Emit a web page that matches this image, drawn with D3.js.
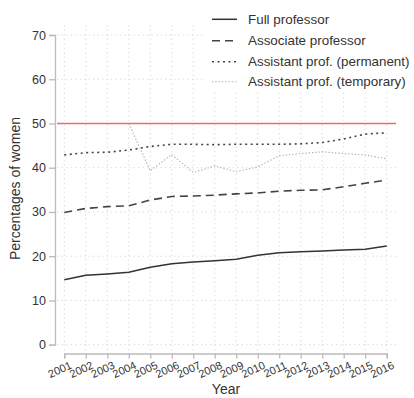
<!DOCTYPE html>
<html><head><meta charset="utf-8">
<script src="https://cdn.jsdelivr.net/npm/d3@7"></script>
<style>body{margin:0;background:#fff}svg{display:block;font-family:"Liberation Sans",Arial,sans-serif}</style>
</head><body><svg id="c" width="414" height="398"></svg>
<script>
const years = [2001,2002,2003,2004,2005,2006,2007,2008,2009,2010,2011,2012,2013,2014,2015,2016];
const fullProf = [14.7,15.7,16.0,16.4,17.5,18.3,18.7,19.0,19.3,20.2,20.8,21.0,21.2,21.4,21.6,22.3];
const assocProf = [29.9,30.8,31.2,31.4,32.7,33.5,33.6,33.8,34.1,34.3,34.7,34.9,35.0,35.7,36.5,37.2];
const asstPerm = [42.9,43.4,43.5,44.0,44.8,45.3,45.3,45.2,45.3,45.3,45.3,45.4,45.7,46.5,47.6,47.9];
const asstTemp = [null,null,null,50.0,39.3,43.0,38.9,40.4,39.1,40.2,42.7,43.2,43.6,43.2,42.9,42.0];
const yTicks = [0,10,20,30,40,50,60,70];
const seriesNames = ["Full professor","Associate professor","Assistant prof. (permanent)","Assistant prof. (temporary)"];
const refLine = 50;

const svg = d3.select("#c");
const x = d3.scaleLinear().domain([2001,2016]).range([64.3,386.7]);
const y = d3.scaleLinear().domain([0,70]).range([344.7,35]);
const txt = "#333";

// grid
const g = svg.append("g");
g.selectAll("line.v").data(years).join("line")
  .attr("x1",d=>x(d)).attr("x2",d=>x(d)).attr("y1",25).attr("y2",353)
  .attr("stroke","#ddd").attr("stroke-width",1).attr("stroke-dasharray","1.5,3");
g.selectAll("line.h").data(yTicks).join("line")
  .attr("x1",57).attr("x2",397).attr("y1",d=>y(d)).attr("y2",d=>y(d))
  .attr("stroke","#ddd").attr("stroke-width",1).attr("stroke-dasharray","1.5,3");

// red reference
svg.append("line").attr("x1",57).attr("x2",396).attr("y1",y(refLine)).attr("y2",y(refLine))
  .attr("stroke","#f06a6a").attr("stroke-width",1.6);

// axes
const yAx = svg.append("g").attr("transform","translate(55,0)")
  .call(d3.axisLeft(y).tickValues(yTicks).tickSize(6).tickPadding(3).tickFormat(d3.format("d")));
const xAx = svg.append("g").attr("transform","translate(0,353.5)")
  .call(d3.axisBottom(x).tickValues(years).tickSize(5).tickPadding(2).tickFormat(d3.format("d")));
[yAx,xAx].forEach(a=>{
  a.select(".domain").attr("stroke","#bbb").attr("stroke-width",1.3);
  a.selectAll(".tick line").attr("stroke","#bbb").attr("stroke-width",1.3);
  a.selectAll("text").attr("fill",txt).style("font-family",'"Liberation Sans",Arial,sans-serif');
});
yAx.selectAll("text").style("font-size","12.5px");
xAx.selectAll("text").style("font-size","11px").attr("text-anchor","end")
  .attr("transform","translate(2,2) rotate(-25)").attr("dy","0.6em");

// lines
const styles = [
  {data:fullProf, color:"#333", w:1.5, dash:null},
  {data:assocProf, color:"#444", w:1.6, dash:"8,5"},
  {data:asstPerm, color:"#444", w:1.6, dash:"2,3.5"},
  {data:asstTemp, color:"#aaa", w:1.1, dash:"1.3,2"}
];
const line = d3.line().defined(d=>d[1]!=null).x(d=>x(d[0])).y(d=>y(d[1]));
styles.forEach(s=>{
  svg.append("path").datum(years.map((yr,i)=>[yr,s.data[i]]))
    .attr("d",line).attr("fill","none").attr("stroke",s.color)
    .attr("stroke-width",s.w).attr("stroke-dasharray",s.dash);
});

// legend
svg.append("rect").attr("x",205).attr("y",0).attr("width",209).attr("height",90).attr("fill","#fff");
const ly = [19.3,40.7,61.7,81.7];
styles.forEach((s,i)=>{
  svg.append("line").attr("x1",212).attr("x2",237).attr("y1",ly[i]).attr("y2",ly[i])
    .attr("stroke",s.color).attr("stroke-width",s.w).attr("stroke-dasharray",s.dash);
  svg.append("text").attr("x",248).attr("y",ly[i]).attr("dy","0.35em")
    .attr("fill",txt).style("font-size","13.4px").text(seriesNames[i]);
});

// titles
svg.append("text").attr("x",226).attr("y",394).attr("text-anchor","middle")
  .attr("fill",txt).style("font-size","14px").text("Year");
svg.append("text").attr("transform","translate(20,188.5) rotate(-90)").attr("text-anchor","middle")
  .attr("fill",txt).style("font-size","14px").text("Percentages of women");
</script></body></html>
